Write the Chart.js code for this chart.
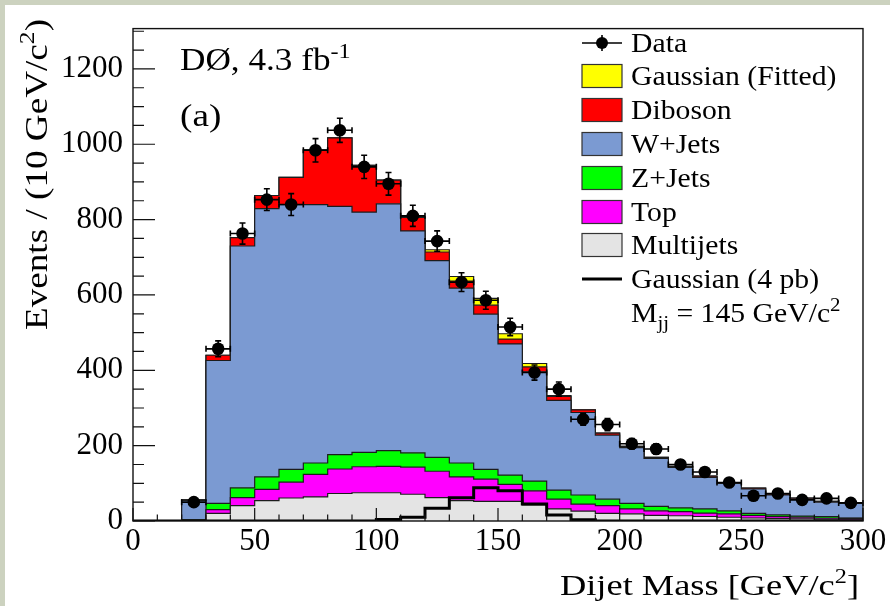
<!DOCTYPE html>
<html><head><meta charset="utf-8">
<script src="https://cdn.jsdelivr.net/npm/chart.js@4.4.1/dist/chart.umd.min.js"></script>
<style>html,body{margin:0;padding:0;background:#fff;overflow:hidden}canvas{display:block}</style>
</head><body>
<canvas id="chart" width="890" height="606"></canvas>
<script>
// ---- data ----
const binEdges   = [0,10,20,30,40,50,60,70,80,90,100,110,120,130,140,150,160,170,180,190,200,210,220,230,240,250,260,270,280,290,300];
const binCenters = [5,15,25,35,45,55,65,75,85,95,105,115,125,135,145,155,165,175,185,195,205,215,225,235,245,255,265,275,285,295];
const multijets  = [0,0,2,20,41,54,61,64,73,75,75,71,62,54,52,52,43,32,26,20,19,15,14,12,10,8,7,6,5,3];
const topQuark   = [0,0,0,10,21,30,42,60,65,69,70,72,70,63,59,45,37,26,19,21,13,12,11,9,9,7,5,4,3,4];
const zJets      = [0,0,1,17,26,33,34,30,38,38,42,38,37,37,26,25,26,24,24,17,15,12,10,11,8,5,4,3,4,1];
const wJets      = [0,0,52,379,642,712,703,686,659,638,655,589,522,464,412,348,290,238,219,170,148,127,107,84,73,65,53,46,38,39];
const diboson    = [0,0,1,14,22,35,72,145,182,124,63,36,23,19,24,13,13,11,7,5,3,3,3,3,2,2,2,2,2,2];
const gaussFit   = [0,0,0,0,0,0,0,0,0,0,0,2,6,12,18,14,9,2,0,0,0,0,0,0,0,0,0,0,0,0];
const gauss4pb   = [0,0,0,0,0,0,0,0,0,0,4,10,34,62,88,80,45,16,3,0,0,0,0,0,0,0,0,0,0,0];
const dataCounts = [null,null,50,457,763,853,840,984,1037,940,895,810,743,634,586,515,394,350,270,256,205,191,150,130,102,67,73,56,60,48];
const dataErrors = [null,null,7,21,28,29,29,31,32,31,30,28,27,25,24,23,20,19,16,16,14,14,12,11,10,8,9,7,8,7];
const xTickValues = [0,50,100,150,200,250,300];
const yTickValues = [0,200,400,600,800,1000,1200];
const Y_MAX = 1307;

const SERIF = '"Liberation Serif", "Times New Roman", serif';
const EDGE = '#1c1c1c';

function hist(vals){ return binEdges.map((x,i)=>({x:x, y: vals[Math.min(i, vals.length-1)]})); }
function stackDs(label, vals, color, fill){
  return {label, data: hist(vals), yAxisID:'y', stepped:'before', fill: fill,
    backgroundColor: color, borderColor: EDGE, borderWidth: 1.2, pointRadius: 0, pointHoverRadius:0};
}

const datasets = [
  {label:'Data', data: binCenters.map((x,i)=>({x:x, y:dataCounts[i]})), yAxisID:'y2', showLine:false,
   pointRadius:6.3, pointBackgroundColor:'#000', pointBorderColor:'#000', pointBorderWidth:0, pointStyle:'circle'},
  {label:'Gaussian (4 pb)', data: hist(gauss4pb), yAxisID:'y2', stepped:'before', fill:false,
   borderColor:'#000', borderWidth:3, pointRadius:0},
  stackDs('Multijets', multijets, '#e4e4e4', 'origin'),
  stackDs('Top', topQuark, '#ff00ff', '-1'),
  stackDs('Z+Jets', zJets, '#00ff00', '-1'),
  stackDs('W+Jets', wJets, '#7b9ad2', '-1'),
  stackDs('Diboson', diboson, '#ff0000', '-1'),
  stackDs('Gaussian (Fitted)', gaussFit, '#ffff00', '-1')
];

function rich(ctx, parts, x, y, sx, align){
  let w = 0;
  for (const p of parts){ ctx.font = p.size + 'px ' + SERIF; p.w = ctx.measureText(p.t).width; w += p.w; }
  let cx = align === 'right' ? x - w*sx : x;
  for (const p of parts){
    ctx.save(); ctx.font = p.size + 'px ' + SERIF; ctx.textAlign='left'; ctx.textBaseline='alphabetic';
    ctx.translate(cx, y + (p.dy||0)); ctx.scale(sx,1); ctx.fillText(p.t, 0, 0); ctx.restore();
    cx += p.w*sx;
  }
}
function widthOf(ctx, parts){ let w=0; for (const p of parts){ ctx.font = p.size+'px '+SERIF; w += ctx.measureText(p.t).width; } return w; }

const bgPlugin = { id:'bg', beforeDraw(chart){ const c=chart.ctx; c.save(); c.fillStyle='#ccd2bf'; c.fillRect(0,0,chart.width,chart.height); c.fillStyle='#fff'; c.fillRect(5,5,chart.width-5,chart.height-5); c.restore(); } };

const errPlugin = { id:'errbars', afterDatasetsDraw(chart){
  const {ctx, scales:{x, y2}} = chart;
  ctx.save(); ctx.strokeStyle='#000'; ctx.lineWidth=1.6;
  for (let i=0;i<dataCounts.length;i++){
    const v = dataCounts[i]; if (v===null) continue;
    const e = dataErrors[i];
    const xc = x.getPixelForValue(binCenters[i]), yc = y2.getPixelForValue(v);
    const yl = y2.getPixelForValue(v-e), yh = y2.getPixelForValue(v+e);
    const xl = x.getPixelForValue(binEdges[i]), xr = x.getPixelForValue(binEdges[i+1]);
    ctx.beginPath();
    ctx.moveTo(xc, yl); ctx.lineTo(xc, yh);
    ctx.moveTo(xc-3, yl); ctx.lineTo(xc+3, yl);
    ctx.moveTo(xc-3, yh); ctx.lineTo(xc+3, yh);
    ctx.moveTo(xl, yc); ctx.lineTo(xr, yc);
    ctx.moveTo(xl, yc-3); ctx.lineTo(xl, yc+3);
    ctx.moveTo(xr, yc-3); ctx.lineTo(xr, yc+3);
    ctx.stroke();
  }
  ctx.restore();
}};

const framePlugin = { id:'frame', afterDraw(chart){
  const {ctx, chartArea:a, scales:{x, y}} = chart;
  ctx.save(); ctx.strokeStyle='#111'; ctx.lineWidth=1.2;
  ctx.beginPath();
  for (let v=0; v<=Y_MAX; v+=50){
    const py = y.getPixelForValue(v); const len = (v%200===0)?22:11;
    ctx.moveTo(a.left, py); ctx.lineTo(a.left+len, py);
  }
  for (let v=0; v<=300; v+=10){
    const px = x.getPixelForValue(v); const len = (v%50===0)?13:6.5;
    ctx.moveTo(px, a.bottom); ctx.lineTo(px, a.bottom-len);
  }
  ctx.stroke();
  ctx.lineWidth=1.4; ctx.strokeRect(a.left, a.top, a.right-a.left, a.bottom-a.top);
  ctx.restore();

  // texts
  ctx.save(); ctx.fillStyle='#000';
  const yParts = [{t:'Events / (10 GeV/c', size:32},{t:'2', size:22, dy:-13},{t:')', size:32}];
  const ySx = 311 / widthOf(ctx, yParts);
  ctx.save(); ctx.translate(47, 19); ctx.rotate(-Math.PI/2);
  rich(ctx, yParts, 0, 0, ySx, 'right'); ctx.restore();
  const xParts = [{t:'Dijet Mass [GeV/c', size:30},{t:'2', size:20, dy:-12},{t:']', size:30}];
  const xSx = 299 / widthOf(ctx, xParts);
  rich(ctx, xParts, 859, 595, xSx, 'right');
  rich(ctx, [{t:'D\u00D8, 4.3 fb', size:32},{t:'-1', size:22, dy:-12}], 180, 70, 1.1, 'left');
  rich(ctx, [{t:'(a)', size:31}], 180, 126, 1.2, 'left');

  const LX0 = 582, LX1 = 622, TX = 631, SX = 1.1, FS = 27;
  const items = [
    {type:'data', label:'Data', cy:43},
    {type:'box', label:'Gaussian (Fitted)', color:'#ffff00', cy:76},
    {type:'box', label:'Diboson', color:'#ff0000', cy:110},
    {type:'box', label:'W+Jets', color:'#7b9ad2', cy:144},
    {type:'box', label:'Z+Jets', color:'#00ff00', cy:178},
    {type:'box', label:'Top', color:'#ff00ff', cy:212},
    {type:'box', label:'Multijets', color:'#e4e4e4', cy:245},
    {type:'line', label:'Gaussian (4 pb)', cy:279}
  ];
  for (const it of items){
    if (it.type==='box'){
      ctx.fillStyle = it.color; ctx.fillRect(LX0, it.cy-11.5, LX1-LX0, 23);
      ctx.strokeStyle='#333'; ctx.lineWidth=1.2; ctx.strokeRect(LX0, it.cy-11.5, LX1-LX0, 23);
    } else if (it.type==='data'){
      ctx.strokeStyle='#000'; ctx.lineWidth=1.6; ctx.beginPath();
      ctx.moveTo(LX0, it.cy); ctx.lineTo(LX1, it.cy);
      ctx.moveTo(602, it.cy-8); ctx.lineTo(602, it.cy+8); ctx.stroke();
      ctx.fillStyle='#000'; ctx.beginPath(); ctx.arc(602, it.cy, 6, 0, Math.PI*2); ctx.fill();
    } else {
      ctx.strokeStyle='#000'; ctx.lineWidth=3; ctx.beginPath();
      ctx.moveTo(LX0, it.cy); ctx.lineTo(LX1, it.cy); ctx.stroke();
    }
    ctx.fillStyle='#000';
    rich(ctx, [{t:it.label, size:FS}], TX, it.cy+9, SX, 'left');
  }
  rich(ctx, [{t:'M', size:FS},{t:'jj', size:19, dy:7},{t:' = 145 GeV/c', size:FS},{t:'2', size:19, dy:-11}], TX, 322, SX, 'left');
  ctx.restore();
}};

new Chart(document.getElementById('chart'), {
  type:'line',
  data:{ datasets },
  plugins:[bgPlugin, errPlugin, framePlugin],
  options:{
    responsive:false, animation:false, events:[],
    layout:{ padding:{left:0, right:27, top:21, bottom:0} },
    plugins:{ legend:{display:false}, tooltip:{enabled:false}, filler:{propagate:false} },
    scales:{
      x:{ type:'linear', min:0, max:300,
          afterBuildTicks(s){ s.ticks = xTickValues.map(v=>({value:v})); },
          afterFit(s){ s.height = 85; },
          grid:{display:false, drawTicks:false}, border:{display:false},
          ticks:{ font:{family:SERIF, size:31}, color:'#000', padding:2, maxRotation:0, autoSkip:false, callback:(v)=>String(v) } },
      y:{ type:'linear', stacked:true, min:0, max:Y_MAX,
          afterBuildTicks(s){ s.ticks = yTickValues.map(v=>({value:v})); },
          afterFit(s){ s.width = 133; },
          grid:{display:false, drawTicks:false}, border:{display:false},
          ticks:{ font:{family:SERIF, size:31}, color:'#000', padding:10, autoSkip:false, callback:(v)=>String(v) } },
      y2:{ type:'linear', display:false, stacked:false, min:0, max:Y_MAX }
    }
  }
});
</script>
</body></html>
